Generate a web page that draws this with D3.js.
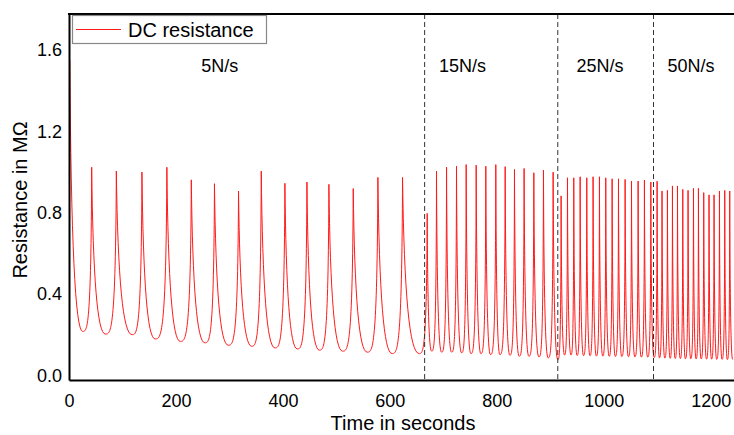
<!DOCTYPE html>
<html>
<head>
<meta charset="utf-8">
<script src="https://cdn.jsdelivr.net/npm/d3@7"></script>
<style>
  body { margin: 0; background: #fff; }
  text { font-family: "Liberation Sans", Arial, sans-serif; fill: #000; }
</style>
</head>
<body>
<div id="chart"></div>
<script>
// peaks and troughs of the DC resistance trace (s, MΩ)
const peakTimes = [1.5, 42.4, 88.5, 136.4, 183, 228.7, 272, 317, 359.5, 403.7, 444.9, 486, 531.5, 577.6, 623.7,
  669.8, 687.2, 706, 724.6, 742.7, 761.4, 779.4, 798.1, 815.6, 833, 851, 869.2, 887.2, 905.3,
  920.2, 932.1, 943.9, 955.8, 968.2, 980, 991.9, 1003.7, 1015.6, 1027.5, 1039.9, 1051.8, 1064.2, 1076, 1088,
  1099.7, 1108.9, 1119, 1128.4, 1137.8, 1147.7, 1157.6, 1167.7, 1177, 1186.9, 1196.8, 1206.2, 1216.3, 1226.2, 1235.5];
const peakValues = [1.55, 1.024, 1.005, 1.0, 1.024, 0.962, 0.943, 0.907, 1.005, 0.945, 0.951, 0.94, 0.919, 0.974, 0.974,
  0.797, 1.005, 1.024, 1.029, 1.037, 1.034, 1.029, 1.037, 1.027, 1.013, 1.018, 0.997, 1.01, 1.0,
  0.883, 0.972, 0.972, 0.977, 0.972, 0.977, 0.977, 0.972, 0.967, 0.967, 0.964, 0.956, 0.956, 0.961, 0.951,
  0.955, 0.907, 0.91, 0.932, 0.932, 0.915, 0.91, 0.92, 0.92, 0.899, 0.888, 0.888, 0.907, 0.91, 0.907];
const troughTimes = [25.6, 68, 118, 161, 208, 254, 297.8, 341.5, 385, 426.8, 468, 511.5, 557.6, 604, 654.8,
  678, 696.6, 715.3, 734, 751.4, 770, 788, 805.6, 824.3, 841.7, 859.8, 878.5, 895.9, 914,
  926.5, 938.5, 950, 962, 974, 986, 998, 1010, 1021.5, 1033.5, 1046, 1058, 1070, 1082, 1094,
  1104, 1114, 1124, 1133.5, 1143, 1152.5, 1162.5, 1172.5, 1182, 1192, 1201.5, 1211, 1221, 1231, 1241];
const troughValues = [0.216, 0.203, 0.2, 0.179, 0.167, 0.16, 0.148, 0.143, 0.135, 0.13, 0.124, 0.119, 0.114, 0.107, 0.107,
  0.119, 0.114, 0.114, 0.111, 0.107, 0.107, 0.102, 0.102, 0.099, 0.094, 0.094, 0.091, 0.086, 0.078,
  0.1, 0.1, 0.098, 0.097, 0.097, 0.095, 0.095, 0.094, 0.093, 0.093, 0.092, 0.091, 0.09, 0.09, 0.088,
  0.086, 0.085, 0.084, 0.083, 0.083, 0.082, 0.082, 0.081, 0.081, 0.08, 0.08, 0.079, 0.079, 0.078, 0.078];

const rateLabels = ['5N/s', '15N/s', '25N/s', '50N/s'];
const rateLabelTimes = [282, 736, 993, 1163];
const rateChanges = [665, 914, 1093];

const xTicks = [0, 200, 400, 600, 800, 1000, 1200];
const yTicks = [0.0, 0.4, 0.8, 1.2, 1.6];

// build the trace as peak, trough, peak, trough ...
let trace = [];
peakTimes.forEach((t, i) => {
  trace.push({ t: t, v: peakValues[i] });
  trace.push({ t: troughTimes[i], v: troughValues[i] });
});

const width = 734, height = 435;
const plot = { left: 69, right: 734, top: 14, bottom: 380 };

const svg = d3.select('#chart').append('svg')
  .attr('width', width)
  .attr('height', height);

let x = d3.scaleLinear().domain([0, 1243.5]).range([plot.left, plot.right]);
let y = d3.scaleLinear().domain([-0.023, 1.778]).range([plot.bottom, plot.top]);

// steep near the peaks, round U at the troughs
function spikeCurve(context) {
  let prev = null;
  return {
    areaStart() {}, areaEnd() {},
    lineStart() { prev = null; },
    lineEnd() {},
    point(px, py) {
      px = +px; py = +py;
      if (!prev) {
        context.moveTo(px, py);
      } else {
        const dx = px - prev[0];
        if (py > prev[1]) {
          context.quadraticCurveTo(prev[0] + 0.14 * dx, py, px, py);
        } else {
          context.bezierCurveTo(prev[0] + 0.5 * dx, prev[1], px - 0.06 * dx, prev[1], px, py);
        }
      }
      prev = [px, py];
    }
  };
}

svg.append('clipPath').attr('id', 'clip')
  .append('rect')
  .attr('x', plot.left).attr('y', plot.top)
  .attr('width', plot.right - plot.left).attr('height', plot.bottom - plot.top);

const line = d3.line()
  .x(d => x(d.t))
  .y(d => y(d.v))
  .curve(spikeCurve);

svg.append('path')
  .datum(trace)
  .attr('clip-path', 'url(#clip)')
  .attr('fill', 'none')
  .attr('stroke', '#ff1a1a')
  .attr('stroke-width', 1)
  .attr('d', line);

// dashed separators
svg.selectAll('.sep').data(rateChanges).enter()
  .append('line')
  .attr('class', 'sep')
  .attr('x1', d => x(d)).attr('x2', d => x(d))
  .attr('y1', plot.top).attr('y2', plot.bottom)
  .attr('stroke', '#333')
  .attr('stroke-width', 1)
  .attr('stroke-dasharray', '5,3');

// rate labels
svg.selectAll('.rate').data(rateLabels).enter()
  .append('text')
  .attr('class', 'rate')
  .attr('x', (d, i) => x(rateLabelTimes[i]))
  .attr('y', 72)
  .attr('text-anchor', 'middle')
  .attr('font-size', '18px')
  .text(d => d);

// axes
const xAxis = d3.axisBottom(x)
  .tickValues(xTicks)
  .tickSize(0)
  .tickPadding(14)
  .tickFormat(d3.format('d'));
const gx = svg.append('g')
  .attr('transform', `translate(0, ${plot.bottom})`)
  .call(xAxis);
gx.selectAll('text').attr('font-size', '18px').style('font-family', '"Liberation Sans", Arial, sans-serif');

const yAxis = d3.axisLeft(y)
  .tickValues(yTicks)
  .tickSize(0)
  .tickPadding(7)
  .tickFormat(d3.format('.1f'));
const gy = svg.append('g')
  .attr('transform', `translate(${plot.left}, 0)`)
  .call(yAxis);
gy.selectAll('text').attr('font-size', '18px').style('font-family', '"Liberation Sans", Arial, sans-serif');

svg.selectAll('.domain').attr('stroke', '#000').attr('stroke-width', 2);

// top border
svg.append('line')
  .attr('x1', plot.left - 1).attr('x2', plot.right)
  .attr('y1', plot.top).attr('y2', plot.top)
  .attr('stroke', '#000').attr('stroke-width', 2);

// axis titles
svg.append('text')
  .attr('x', 403)
  .attr('y', 430)
  .attr('text-anchor', 'middle')
  .attr('font-size', '20px')
  .text('Time in seconds');

svg.append('text')
  .attr('transform', 'rotate(-90)')
  .attr('x', -200)
  .attr('y', 27)
  .attr('text-anchor', 'middle')
  .attr('font-size', '20px')
  .text('Resistance in MΩ');

// legend
const legend = svg.append('g');
legend.append('rect')
  .attr('x', 72.5).attr('y', 15.5)
  .attr('width', 194).attr('height', 28)
  .attr('fill', '#fff')
  .attr('stroke', '#888')
  .attr('stroke-width', 1.2);
legend.append('line')
  .attr('x1', 76).attr('x2', 121)
  .attr('y1', 29.5).attr('y2', 29.5)
  .attr('stroke', '#ff1a1a').attr('stroke-width', 1);
legend.append('text')
  .attr('x', 128)
  .attr('y', 36.5)
  .attr('font-size', '20px')
  .text('DC resistance');
</script>
</body>
</html>
